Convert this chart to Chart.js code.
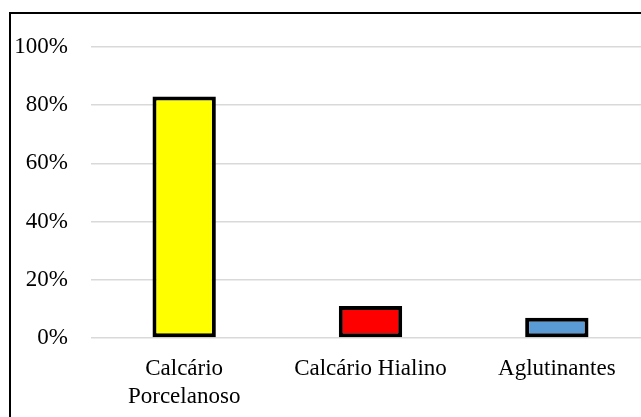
<!DOCTYPE html>
<html>
<head>
<meta charset="utf-8">
<script src="https://cdn.jsdelivr.net/npm/chart.js@4.4.1/dist/chart.umd.min.js"></script>
<style>
  html, body { margin: 0; padding: 0; background: #fff; overflow: hidden; }
  body { width: 641px; height: 417px; position: relative; }
  #wrap { position: absolute; left: 0; top: 0; width: 660px; height: 417px; }
  #frame {
    position: absolute; left: 9px; top: 12px; width: 700px; height: 500px;
    border: 2px solid #000; pointer-events: none;
  }
</style>
</head>
<body>
<div id="wrap"><canvas id="chart"></canvas></div>
<div id="frame"></div>
<script>
/* global Chart */

const categories = [["Calcário", "Porcelanoso"], "Calcário Hialino", "Aglutinantes"];
const shares = [83, 11, 7];
const barColors = ["#ffff00", "#ff0000", "#5b9bd5"];
const yTicks = [0, 20, 40, 60, 80, 100];

const font = { family: "'Liberation Serif', 'Times New Roman', serif", size: 23 };

function buildChart() {
  const ctx = document.getElementById("chart");
  return new Chart(ctx, {
    type: "bar",
    data: {
      labels: categories,
      datasets: [
        {
          data: shares,
          backgroundColor: barColors,
          borderColor: "#000",
          borderWidth: 4,
          borderSkipped: false,
          categoryPercentage: 1,
          barPercentage: 0.34
        }
      ]
    },
    options: {
      responsive: true,
      maintainAspectRatio: false,
      animation: false,
      layout: { padding: { top: 47, left: 0, right: 10, bottom: 0 } },
      plugins: {
        legend: { display: false },
        tooltip: { enabled: false }
      },
      scales: {
        y: {
          min: 0,
          max: 100,
          afterBuildTicks: (scale) => {
            scale.ticks = yTicks.map(v => ({ value: v }));
          },
          afterFit: (scale) => { scale.width = 91; },
          border: { display: false },
          grid: { color: "#d9d9d9", lineWidth: 1.5, drawTicks: false },
          ticks: {
            color: "#000",
            font,
            padding: 23,
            callback: (v) => v + "%"
          }
        },
        x: {
          afterFit: (scale) => { scale.height = 79; },
          border: { display: false },
          grid: { display: false, drawTicks: false },
          ticks: {
            color: "#000",
            font: { ...font, lineHeight: 1.22 },
            padding: 17,
            maxRotation: 0,
            autoSkip: false
          }
        }
      }
    }
  });
}

document.addEventListener("DOMContentLoaded", buildChart);
</script>
</body>
</html>
